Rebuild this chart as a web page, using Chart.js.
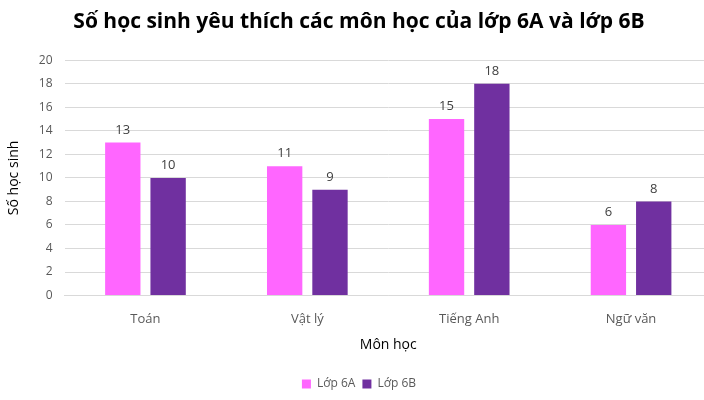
<!DOCTYPE html>
<html><head><meta charset="utf-8">
<script src="https://cdn.jsdelivr.net/npm/chart.js@4/dist/chart.umd.min.js"></script>
<style>html,body{margin:0;padding:0;background:#fff;overflow:hidden}#wrap{width:704px;height:400px;overflow:hidden}</style>
</head><body><div id="wrap"><canvas id="c" width="712" height="400"></canvas></div>
<script>
const categories = ["Toán", "Vật lý", "Tiếng Anh", "Ngữ văn"];
const lop6A = [13, 11, 15, 6];
const lop6B = [10, 9, 18, 8];
const seriesNames = ["Lớp 6A", "Lớp 6B"];
const titleText = "Số học sinh yêu thích các môn học của lớp 6A và lớp 6B";
const yTitle = "Số học sinh";
const xTitle = "Môn học";

const valueLabels = {
  id: 'valueLabels',
  afterDatasetsDraw(chart) {
    const ctx = chart.ctx;
    ctx.save();
    ctx.font = '13px "Open Sans", sans-serif';
    ctx.fillStyle = '#404040';
    ctx.textAlign = 'center';
    ctx.textBaseline = 'bottom';
    chart.data.datasets.forEach((ds, i) => {
      chart.getDatasetMeta(i).data.forEach((bar, j) => {
        ctx.fillText(String(ds.data[j]), bar.x, bar.y - 6);
      });
    });
    ctx.restore();
  }
};

new Chart(document.getElementById('c'), {
  type: 'bar',
  data: {
    labels: categories,
    datasets: [
      { label: seriesNames[0], data: lop6A, backgroundColor: '#ff66ff', borderColor: '#ff66ff', borderWidth: 0 },
      { label: seriesNames[1], data: lop6B, backgroundColor: '#7030a0', borderColor: '#7030a0', borderWidth: 0 }
    ]
  },
  options: {
    responsive: false,
    animation: false,
    layout: { padding: { left: 6, right: 0, top: 0, bottom: 0 } },
    datasets: { bar: { categoryPercentage: 0.56, barPercentage: 0.78 } },
    plugins: {
      title: {
        display: true, text: titleText, color: '#000',
        font: { family: '"Open Sans", sans-serif', size: 21, weight: 'bold' },
        padding: { top: 9, bottom: 26 }
      },
      legend: {
        position: 'bottom',
        labels: { boxWidth: 9, boxHeight: 9, color: '#595959', padding: 7,
          font: { family: '"Open Sans", sans-serif', size: 12 } }
      },
      tooltip: { enabled: false }
    },
    scales: {
      x: {
        grid: { display: false, drawTicks: false },
        border: { color: '#d9d9d9' },
        ticks: { color: '#595959', padding: 16, font: { family: '"Open Sans", sans-serif', size: 13 } },
        title: { display: true, text: xTitle, color: '#000', padding: { top: -7, bottom: 18 },
          font: { family: '"Open Sans", sans-serif', size: 14 } }
      },
      y: {
        min: 0, max: 20,
        ticks: { stepSize: 2, color: '#595959', padding: 12, font: { family: '"Open Sans", sans-serif', size: 12 } },
        grid: { color: '#d9d9d9', drawTicks: false },
        border: { display: false },
        title: { display: true, text: yTitle, color: '#000', padding: { top: 0, bottom: 4 },
          font: { family: '"Open Sans", sans-serif', size: 14 } }
      }
    }
  },
  plugins: [valueLabels]
});
</script></body></html>
